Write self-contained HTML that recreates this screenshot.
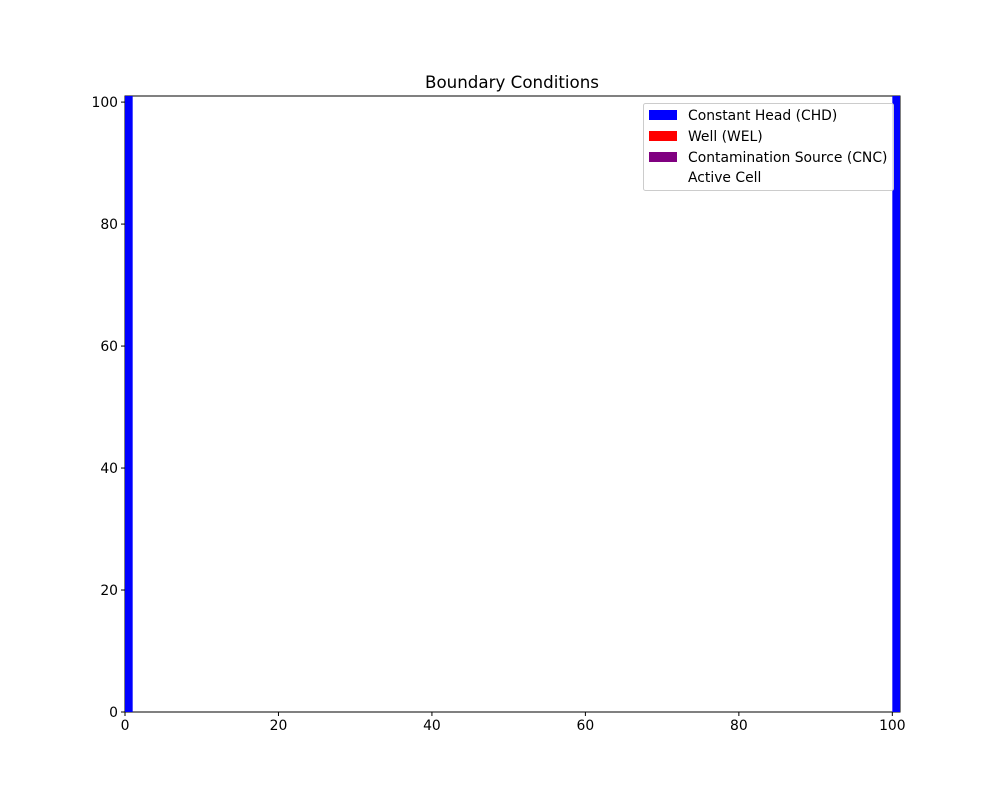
<!DOCTYPE html>
<html><head><meta charset="utf-8"><style>
body{margin:0;background:#fff}
text{font-family:"DejaVu Sans","Liberation Sans",sans-serif;font-size:13.9px;fill:#000}
</style></head><body>
<svg id="chart" width="1000" height="800">
<rect width="1000" height="800" fill="#fff"/>
<text x="512" y="88" text-anchor="middle" style="font-size:16.7px">Boundary Conditions</text>
<g id="axes"></g>
<g id="cells"></g>
<g>
<rect x="643.5" y="103.5" width="250" height="87" rx="2" fill="#fff" fill-opacity="0.8" stroke="#ccc"/>
<rect x="649" y="110" width="28" height="10" fill="#0000ff"/>
<text x="688" y="120">Constant Head (CHD)</text>
<rect x="649" y="131" width="28" height="10" fill="#ff0000"/>
<text x="688" y="141">Well (WEL)</text>
<rect x="649" y="152" width="28" height="10" fill="#800080"/>
<text x="688" y="162">Contamination Source (CNC)</text>
<text x="688" y="182">Active Cell</text>
</g>
</svg>
<script>
const xTicks=[0,20,40,60,80,100];
const yTicks=[0,20,40,60,80,100];
const chdCols=[0,100];
const nRows=101;
const domainMax=101;
const L=125,R=900,T=96,B=712;
const sx=v=>L+(R-L)*v/domainMax;
const sy=v=>B-(B-T)*v/domainMax;
const NS="http://www.w3.org/2000/svg";
const cells=document.getElementById('cells');
chdCols.forEach(c=>{
  const r=document.createElementNS(NS,'rect');
  r.setAttribute('x',sx(c));r.setAttribute('y',sy(nRows));
  r.setAttribute('width',sx(c+1)-sx(c));r.setAttribute('height',sy(0)-sy(nRows));
  r.setAttribute('fill','#0000ff');
  
  
  cells.appendChild(r);
});
const ax=document.getElementById('axes');
ax.innerHTML='<rect x="'+L+'" y="'+T+'" width="'+(R-L)+'" height="'+(B-T)+'" fill="none" stroke="#000" stroke-width="1"/>';
xTicks.forEach(t=>{
  const x=sx(t);
  const l=document.createElementNS(NS,'line');
  l.setAttribute('x1',x);l.setAttribute('x2',x);l.setAttribute('y1',B);l.setAttribute('y2',B+4);l.setAttribute('stroke','#000');
  
  
  ax.appendChild(l);
  const tx=document.createElementNS(NS,'text');
  tx.setAttribute('x',x);tx.setAttribute('y',B+18);tx.setAttribute('text-anchor','middle');tx.textContent=t;
  
  
  ax.appendChild(tx);
});
yTicks.forEach(t=>{
  const y=sy(t);
  const l=document.createElementNS(NS,'line');
  l.setAttribute('x1',L-4);l.setAttribute('x2',L);l.setAttribute('y1',y);l.setAttribute('y2',y);l.setAttribute('stroke','#000');
  
  
  ax.appendChild(l);
  const tx=document.createElementNS(NS,'text');
  tx.setAttribute('x',L-7);tx.setAttribute('y',y+5);tx.setAttribute('text-anchor','end');tx.textContent=t;
  
  
  ax.appendChild(tx);
});
</script>
</body></html>
